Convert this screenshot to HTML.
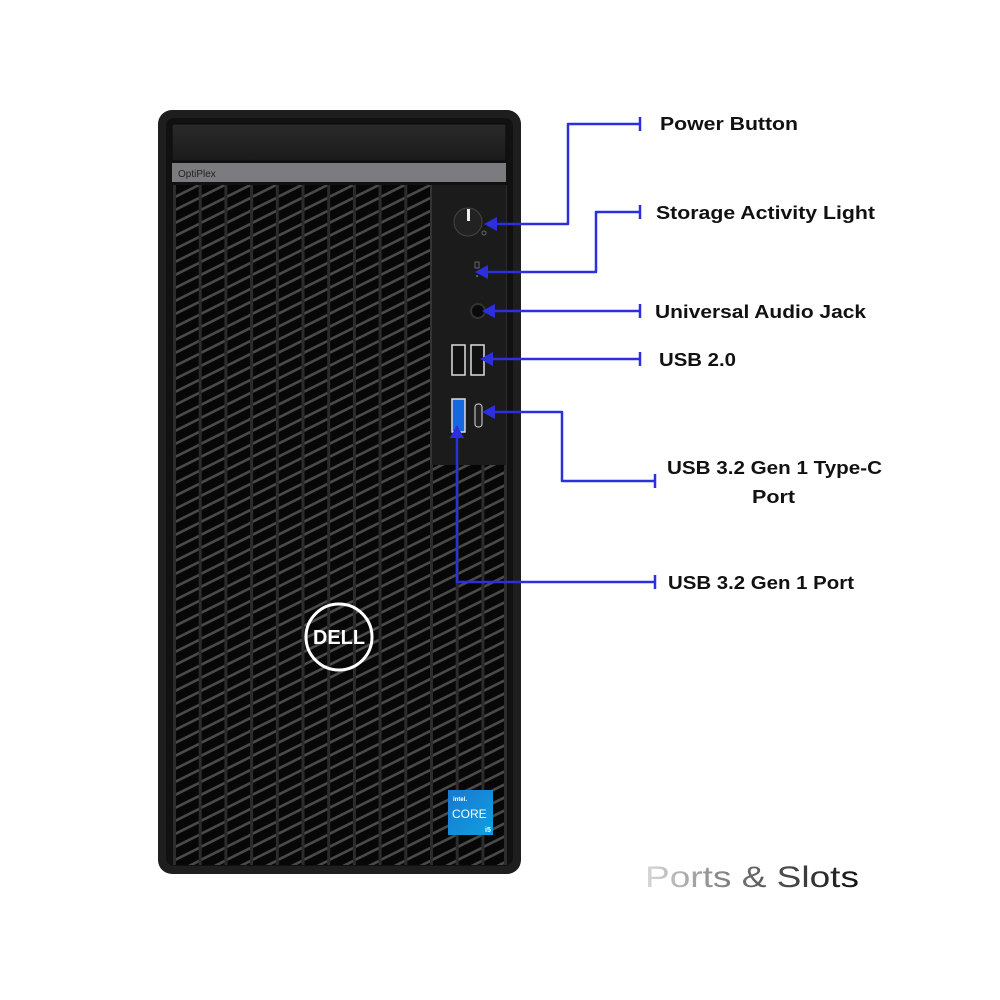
<!DOCTYPE html>
<html><head><meta charset="utf-8"><style>
html,body{margin:0;padding:0;background:#fff;width:1000px;height:1000px;overflow:hidden}
svg{display:block}
.l{font-family:"Liberation Sans",sans-serif;font-weight:bold;font-size:18px;fill:#111}
</style></head><body>
<svg width="1000" height="1000" viewBox="0 0 1000 1000" xmlns="http://www.w3.org/2000/svg">
<defs>
<pattern id="g" patternUnits="userSpaceOnUse" x="173" y="185" width="25.7" height="13">
<rect width="25.7" height="13" fill="#070707"/>
<path d="M-2 14 L28 -1" stroke="#4a4a4a" stroke-width="2.6"/>
<path d="M-2 27 L28 12" stroke="#4a4a4a" stroke-width="2.6"/>
<path d="M-2 1 L28 -14" stroke="#4a4a4a" stroke-width="2.6"/>
<rect x="0" y="0" width="3" height="13" fill="#2c2c2c"/>
</pattern>
<linearGradient id="bay" x1="0" y1="0" x2="0" y2="1"><stop offset="0" stop-color="#2a2a2a"/><stop offset="1" stop-color="#1a1a1a"/></linearGradient>
<linearGradient id="ps" x1="0" y1="0" x2="1" y2="0"><stop offset="0" stop-color="#d8d8d8"/><stop offset="0.5" stop-color="#666"/><stop offset="1" stop-color="#111"/></linearGradient>
<linearGradient id="intel" x1="0" y1="0" x2="1" y2="1"><stop offset="0" stop-color="#1a78d0"/><stop offset="1" stop-color="#0e9fe0"/></linearGradient>
</defs>
<!-- tower -->
<rect x="158" y="110" width="363" height="764" rx="14" fill="#1e1e1e"/>
<rect x="166" y="118" width="347" height="748" rx="8" fill="#111"/>
<rect x="172" y="124" width="334" height="37" rx="2" fill="url(#bay)" stroke="#0a0a0a"/>
<rect x="172" y="163" width="334" height="19" fill="#7c7c80"/>
<text x="178" y="177" font-family="Liberation Sans,sans-serif" font-size="10" fill="#222">OptiPlex</text>
<rect x="173" y="185" width="334" height="680" fill="url(#g)"/>
<rect x="504" y="185" width="3" height="680" fill="#2c2c2c"/>
<!-- panel -->
<rect x="430" y="185" width="76" height="280" fill="#1b1b1c"/>
<rect x="430" y="185" width="2" height="280" fill="#333"/>
<circle cx="468" cy="222" r="14" fill="#222" stroke="#444"/>
<rect x="467" y="209" width="3" height="12" fill="#eee"/>
<circle cx="484" cy="233" r="2" fill="none" stroke="#666"/>
<rect x="475" y="262" width="4" height="6" fill="none" stroke="#777" stroke-width="0.8"/>
<circle cx="477" cy="276" r="0.8" fill="#aaa"/>
<circle cx="478" cy="311" r="7" fill="#0a0a0a" stroke="#333" stroke-width="2"/>
<rect x="452" y="345" width="13" height="30" fill="#111" stroke="#ddd" stroke-width="1.5"/>
<rect x="471" y="345" width="13" height="30" fill="#111" stroke="#ddd" stroke-width="1.5"/>
<rect x="452" y="399" width="13" height="33" fill="#1668e0" stroke="#ddd" stroke-width="1.5"/>
<rect x="475" y="404" width="7" height="23" rx="3" fill="#222" stroke="#bbb" stroke-width="1.2"/>
<!-- dell logo -->
<circle cx="339" cy="637" r="33" fill="none" stroke="#fff" stroke-width="3"/>
<text x="339" y="644" text-anchor="middle" font-family="Liberation Sans,sans-serif" font-weight="bold" font-size="20" fill="#fff" textLength="52" lengthAdjust="spacingAndGlyphs">DELL</text>
<!-- intel -->
<rect x="448" y="790" width="45" height="45" fill="url(#intel)"/>
<text x="453" y="801" font-family="Liberation Sans,sans-serif" font-size="6" fill="#fff" font-weight="bold">intel.</text>
<text x="452" y="818" font-family="Liberation Sans,sans-serif" font-size="12" fill="#fff">CORE</text>
<text x="485" y="832" font-family="Liberation Sans,sans-serif" font-size="7" fill="#fff" font-weight="bold">i5</text>
<!-- connectors -->
<g stroke="#2b30dc" stroke-width="2.5" fill="none" stroke-linejoin="round">
<path d="M496 224 H568 V124 H640"/><path d="M640 117 V131"/>
<path d="M487 272 H596 V212 H640"/><path d="M640 205 V219"/>
<path d="M494 311 H640"/><path d="M640 304 V318"/>
<path d="M492 359 H640"/><path d="M640 352 V366"/>
<path d="M494 412 H562 V481 H655"/><path d="M655 474 V488"/>
<path d="M457 437 V582 H655"/><path d="M655 575 V589"/>
</g>
<g fill="#2b30dc">
<path d="M484 224 L497 217 L497 231Z"/>
<path d="M475 272 L488 265 L488 279Z"/>
<path d="M482 311 L495 304 L495 318Z"/>
<path d="M480 359 L493 352 L493 366Z"/>
<path d="M482 412 L495 405 L495 419Z"/>
<path d="M457 425 L450 438 L464 438Z"/>
</g>
<!-- labels -->
<text class="l" x="660" y="130" textLength="138" lengthAdjust="spacingAndGlyphs">Power Button</text>
<text class="l" x="656" y="219" textLength="219" lengthAdjust="spacingAndGlyphs">Storage Activity Light</text>
<text class="l" x="655" y="318" textLength="211" lengthAdjust="spacingAndGlyphs">Universal Audio Jack</text>
<text class="l" x="659" y="366" textLength="77" lengthAdjust="spacingAndGlyphs">USB 2.0</text>
<text class="l" x="667" y="474" textLength="215" lengthAdjust="spacingAndGlyphs">USB 3.2 Gen 1 Type-C</text>
<text class="l" x="752" y="503" textLength="43" lengthAdjust="spacingAndGlyphs">Port</text>
<text class="l" x="668" y="589" textLength="186" lengthAdjust="spacingAndGlyphs">USB 3.2 Gen 1 Port</text>
<text x="645" y="887" font-family="Liberation Sans,sans-serif" font-size="30" fill="url(#ps)" textLength="214" lengthAdjust="spacingAndGlyphs">Ports &amp; Slots</text>
</svg>
</body></html>
